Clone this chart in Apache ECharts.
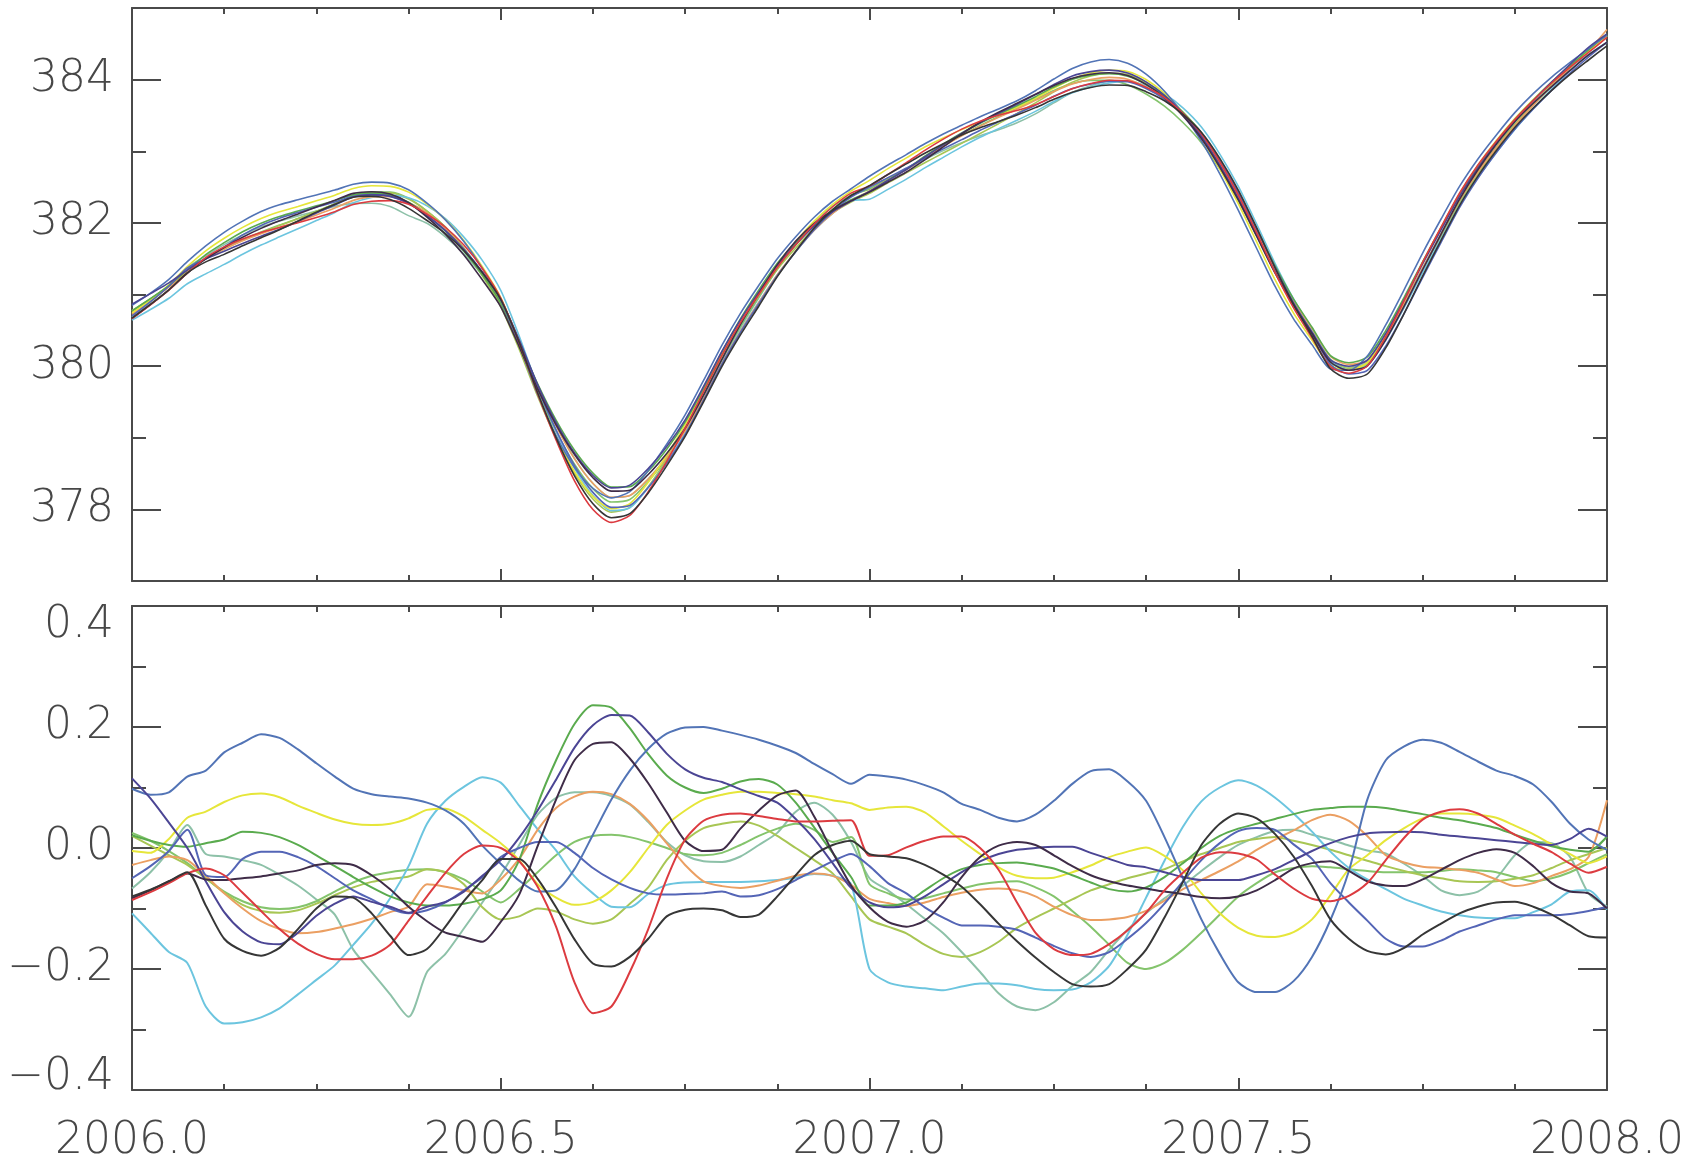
<!DOCTYPE html>
<html>
<head>
<meta charset="utf-8">
<script src="https://cdn.jsdelivr.net/npm/echarts@6/dist/echarts.min.js"></script>
<style>
  html, body { margin: 0; padding: 0; background: #ffffff; }
  #chart { width: 1700px; height: 1164px; }
</style>
</head>
<body>
<div id="chart"></div>
<script>
// Sampling times (decimal year)
const years = [
  2006.000, 2006.025, 2006.050, 2006.075, 2006.100, 2006.125, 2006.150, 2006.175, 2006.200, 2006.225,
  2006.250, 2006.275, 2006.300, 2006.325, 2006.350, 2006.375, 2006.400, 2006.425, 2006.450, 2006.475,
  2006.500, 2006.525, 2006.550, 2006.575, 2006.600, 2006.625, 2006.650, 2006.675, 2006.700, 2006.725,
  2006.750, 2006.775, 2006.800, 2006.825, 2006.850, 2006.875, 2006.900, 2006.925, 2006.950, 2006.975,
  2007.000, 2007.025, 2007.050, 2007.075, 2007.100, 2007.125, 2007.150, 2007.175, 2007.200, 2007.225,
  2007.250, 2007.275, 2007.300, 2007.325, 2007.350, 2007.375, 2007.400, 2007.425, 2007.450, 2007.475,
  2007.500, 2007.525, 2007.550, 2007.575, 2007.600, 2007.625, 2007.650, 2007.675, 2007.700, 2007.725,
  2007.750, 2007.775, 2007.800, 2007.825, 2007.850, 2007.875, 2007.900, 2007.925, 2007.950, 2007.975,
  2008.000
];

// Ensemble mean concentration (ppm)
const meanCO2 = [
  380.75, 380.93, 381.12, 381.34, 381.55, 381.71, 381.85, 381.97, 382.07, 382.16,
  382.25, 382.34, 382.44, 382.48, 382.47, 382.38, 382.20, 381.98, 381.70, 381.36,
  380.95, 380.35, 379.68, 379.10, 378.62, 378.27, 378.08, 378.12, 378.38, 378.72,
  379.12, 379.60, 380.10, 380.55, 380.95, 381.33, 381.65, 381.94, 382.18, 382.37,
  382.53, 382.69, 382.84, 383.00, 383.15, 383.29, 383.42, 383.54, 383.66, 383.79,
  383.93, 384.05, 384.12, 384.15, 384.12, 384.00, 383.82, 383.57, 383.26, 382.86,
  382.40, 381.88, 381.35, 380.88, 380.48, 380.08, 379.98, 380.06, 380.43, 380.90,
  381.40, 381.88, 382.35, 382.75, 383.10, 383.42, 383.70, 383.96, 384.20, 384.42,
  384.62
];

// Offsets of each member from the mean (ppm)
const devSteel = [
  0.098, 0.088, 0.092, 0.118, 0.128, 0.158, 0.174, 0.188, 0.182, 0.163,
  0.140, 0.118, 0.098, 0.089, 0.085, 0.082, 0.075, 0.062, 0.040, 0.004,
  -0.026, -0.054, -0.072, -0.070, -0.035, 0.022, 0.080, 0.128, 0.164, 0.189,
  0.199, 0.200, 0.194, 0.187, 0.179, 0.169, 0.157, 0.139, 0.122, 0.106,
  0.121, 0.118, 0.113, 0.104, 0.092, 0.073, 0.063, 0.050, 0.044, 0.055,
  0.078, 0.106, 0.127, 0.130, 0.110, 0.078, 0.018, -0.050, -0.118, -0.175,
  -0.222, -0.238, -0.238, -0.220, -0.180, -0.119, -0.038, 0.080, 0.145, 0.168,
  0.179, 0.174, 0.159, 0.143, 0.128, 0.119, 0.105, 0.076, 0.040, 0.014,
  -0.003
];
const devIndigo = [
  0.115, 0.082, 0.042, 0.000, -0.055, -0.106, -0.138, -0.156, -0.159, -0.140,
  -0.112, -0.092, -0.080, -0.089, -0.097, -0.107, -0.097, -0.089, -0.072, -0.046,
  -0.020, 0.017, 0.062, 0.113, 0.166, 0.203, 0.220, 0.219, 0.191, 0.156,
  0.130, 0.116, 0.109, 0.097, 0.086, 0.075, 0.048, 0.015, -0.025, -0.066,
  -0.090, -0.098, -0.095, -0.080, -0.060, -0.040, -0.022, -0.010, -0.003, 0.000,
  0.002, 0.002, -0.008, -0.018, -0.028, -0.032, -0.040, -0.048, -0.053, -0.053,
  -0.053, -0.045, -0.035, -0.020, -0.005, 0.008, 0.018, 0.024, 0.026, 0.027,
  0.026, 0.022, 0.019, 0.016, 0.013, 0.010, 0.007, 0.005, 0.015, 0.032,
  0.019
];
const devBlue = [
  -0.050, -0.030, -0.005, 0.030, -0.045, -0.048, -0.018, -0.006, -0.006, -0.015,
  -0.030, -0.050, -0.070, -0.085, -0.100, -0.108, -0.103, -0.090, -0.070, -0.048,
  -0.015, 0.000, 0.010, 0.010, -0.008, -0.033, -0.052, -0.066, -0.075, -0.077,
  -0.076, -0.075, -0.072, -0.080, -0.078, -0.068, -0.053, -0.037, -0.022, -0.010,
  -0.030, -0.058, -0.075, -0.098, -0.115, -0.128, -0.128, -0.130, -0.135, -0.148,
  -0.162, -0.174, -0.180, -0.172, -0.150, -0.124, -0.092, -0.055, -0.020, 0.008,
  0.028, 0.033, 0.030, 0.006, -0.018, -0.058, -0.090, -0.120, -0.150, -0.163,
  -0.163, -0.153, -0.138, -0.128, -0.118, -0.111, -0.111, -0.111, -0.109, -0.104,
  -0.097
];
const devPlum = [
  -0.083, -0.070, -0.055, -0.042, -0.052, -0.053, -0.050, -0.047, -0.042, -0.037,
  -0.028, -0.025, -0.028, -0.045, -0.068, -0.097, -0.121, -0.140, -0.147, -0.155,
  -0.122, -0.077, 0.003, 0.080, 0.145, 0.172, 0.175, 0.148, 0.107, 0.059,
  0.012, -0.005, -0.003, 0.032, 0.062, 0.087, 0.095, 0.052, -0.007, -0.062,
  -0.098, -0.122, -0.130, -0.120, -0.090, -0.048, -0.015, 0.004, 0.010, 0.005,
  -0.012, -0.030, -0.045, -0.055, -0.062, -0.067, -0.072, -0.076, -0.081, -0.083,
  -0.080, -0.070, -0.053, -0.034, -0.025, -0.022, -0.038, -0.055, -0.062, -0.063,
  -0.052, -0.036, -0.020, -0.008, -0.002, -0.008, -0.030, -0.058, -0.072, -0.075,
  -0.100
];
const devYellow = [
  -0.005, -0.008, 0.015, 0.050, 0.060, 0.076, 0.087, 0.090, 0.084, 0.070,
  0.058, 0.047, 0.040, 0.038, 0.040, 0.049, 0.063, 0.065, 0.052, 0.030,
  0.008, -0.020, -0.060, -0.082, -0.094, -0.089, -0.070, -0.040, 0.000, 0.038,
  0.062, 0.080, 0.088, 0.093, 0.093, 0.091, 0.089, 0.085, 0.079, 0.074,
  0.063, 0.067, 0.068, 0.059, 0.036, 0.012, -0.010, -0.032, -0.046, -0.050,
  -0.049, -0.040, -0.029, -0.015, -0.006, 0.001, -0.013, -0.037, -0.075, -0.108,
  -0.132, -0.145, -0.147, -0.139, -0.118, -0.078, -0.035, -0.012, 0.013, 0.033,
  0.049, 0.057, 0.057, 0.055, 0.050, 0.037, 0.023, 0.006, -0.010, -0.025,
  -0.014
];
const devCyan = [
  -0.108, -0.140, -0.172, -0.190, -0.262, -0.290, -0.288, -0.280, -0.265, -0.242,
  -0.218, -0.194, -0.160, -0.125, -0.083, -0.030, 0.040, 0.078, 0.101, 0.117,
  0.108, 0.070, 0.031, -0.004, -0.047, -0.075, -0.097, -0.098, -0.076, -0.061,
  -0.057, -0.056, -0.056, -0.056, -0.055, -0.053, -0.049, -0.043, -0.046, -0.060,
  -0.200, -0.222, -0.229, -0.232, -0.235, -0.229, -0.224, -0.224, -0.227, -0.233,
  -0.235, -0.234, -0.222, -0.195, -0.143, -0.082, -0.021, 0.035, 0.077, 0.100,
  0.112, 0.103, 0.083, 0.057, 0.027, -0.006, -0.033, -0.052, -0.068, -0.084,
  -0.095, -0.105, -0.111, -0.115, -0.116, -0.116, -0.106, -0.093, -0.072, -0.070,
  -0.102
];
const devTeal = [
  -0.067, -0.040, -0.005, 0.038, -0.010, -0.014, -0.020, -0.028, -0.044, -0.062,
  -0.085, -0.110, -0.168, -0.205, -0.242, -0.279, -0.205, -0.175, -0.133, -0.090,
  -0.045, 0.005, 0.055, 0.083, 0.092, 0.092, 0.086, 0.072, 0.043, 0.010,
  -0.012, -0.022, -0.023, -0.014, 0.005, 0.025, 0.060, 0.075, 0.055, 0.010,
  -0.050, -0.070, -0.093, -0.117, -0.141, -0.172, -0.205, -0.240, -0.262, -0.268,
  -0.255, -0.228, -0.205, -0.168, -0.135, -0.108, -0.083, -0.062, -0.038, -0.015,
  0.005, 0.018, 0.028, 0.030, 0.022, 0.014, 0.004, -0.004, -0.009, -0.026,
  -0.046, -0.070, -0.078, -0.072, -0.050, -0.012, 0.010, 0.008, -0.015, -0.075,
  -0.097
];
const devOrange = [
  -0.028, -0.020, -0.014, -0.020, -0.046, -0.075, -0.100, -0.121, -0.134, -0.141,
  -0.139, -0.133, -0.126, -0.117, -0.106, -0.097, -0.060, -0.064, -0.070, -0.075,
  -0.052, -0.018, 0.030, 0.066, 0.085, 0.093, 0.089, 0.073, 0.045, 0.008,
  -0.028, -0.055, -0.063, -0.066, -0.062, -0.054, -0.046, -0.042, -0.046, -0.061,
  -0.084, -0.091, -0.096, -0.090, -0.081, -0.074, -0.069, -0.067, -0.070, -0.080,
  -0.097, -0.111, -0.119, -0.118, -0.114, -0.104, -0.087, -0.068, -0.053, -0.038,
  -0.022, -0.003, 0.014, 0.029, 0.046, 0.055, 0.045, 0.020, -0.012, -0.024,
  -0.031, -0.033, -0.036, -0.041, -0.052, -0.063, -0.058, -0.046, -0.035, -0.015,
  0.079
];
const devRed = [
  -0.086, -0.073, -0.058, -0.042, -0.034, -0.045, -0.074, -0.104, -0.134, -0.158,
  -0.175, -0.184, -0.184, -0.178, -0.160, -0.120, -0.080, -0.041, -0.010, 0.004,
  0.000, -0.022, -0.064, -0.130, -0.222, -0.273, -0.262, -0.205, -0.134, -0.051,
  0.014, 0.045, 0.055, 0.057, 0.053, 0.048, 0.044, 0.044, 0.045, 0.046,
  -0.013, -0.012, 0.001, 0.012, 0.019, 0.019, 0.000, -0.036, -0.090, -0.140,
  -0.167, -0.177, -0.175, -0.159, -0.136, -0.107, -0.070, -0.041, -0.016, -0.007,
  -0.009, -0.019, -0.044, -0.067, -0.084, -0.088, -0.079, -0.058, -0.020, 0.017,
  0.047, 0.060, 0.064, 0.057, 0.040, 0.022, 0.007, -0.007, -0.026, -0.041,
  -0.031
];
const devBlack = [
  -0.080, -0.069, -0.055, -0.040, -0.095, -0.150, -0.170, -0.178, -0.165, -0.134,
  -0.100, -0.080, -0.082, -0.108, -0.145, -0.177, -0.167, -0.130, -0.088, -0.053,
  -0.018, -0.018, -0.051, -0.098, -0.151, -0.191, -0.196, -0.180, -0.150, -0.113,
  -0.102, -0.100, -0.103, -0.114, -0.110, -0.080, -0.045, -0.012, 0.005, 0.012,
  -0.010, -0.014, -0.017, -0.028, -0.044, -0.064, -0.093, -0.125, -0.154, -0.181,
  -0.205, -0.225, -0.229, -0.225, -0.200, -0.168, -0.115, -0.056, 0.005, 0.040,
  0.057, 0.049, 0.023, -0.014, -0.063, -0.118, -0.150, -0.170, -0.176, -0.165,
  -0.143, -0.125, -0.108, -0.097, -0.090, -0.089, -0.097, -0.110, -0.128, -0.146,
  -0.148
];
const devGreen = [
  0.021, 0.012, 0.005, 0.002, 0.008, 0.014, 0.027, 0.025, 0.018, 0.005,
  -0.012, -0.030, -0.048, -0.065, -0.080, -0.090, -0.095, -0.095, -0.092, -0.085,
  -0.070, -0.020, 0.072, 0.145, 0.205, 0.236, 0.232, 0.198, 0.155, 0.120,
  0.100, 0.091, 0.098, 0.110, 0.114, 0.105, 0.075, 0.034, -0.008, -0.048,
  -0.095, -0.095, -0.090, -0.070, -0.050, -0.035, -0.028, -0.025, -0.024, -0.028,
  -0.034, -0.045, -0.057, -0.068, -0.072, -0.065, -0.048, -0.025, 0.000, 0.020,
  0.032, 0.040, 0.048, 0.056, 0.063, 0.066, 0.068, 0.068, 0.066, 0.061,
  0.056, 0.050, 0.046, 0.040, 0.033, 0.022, 0.012, 0.003, -0.003, -0.006,
  0.019
];
const devOlive = [
  0.020, 0.004, -0.012, -0.028, -0.050, -0.074, -0.094, -0.104, -0.107, -0.103,
  -0.092, -0.078, -0.065, -0.056, -0.051, -0.047, -0.035, -0.040, -0.060, -0.098,
  -0.118, -0.113, -0.100, -0.105, -0.118, -0.125, -0.118, -0.092, -0.065, -0.020,
  0.012, 0.033, 0.040, 0.044, 0.037, 0.020, 0.000, -0.020, -0.042, -0.080,
  -0.118, -0.130, -0.141, -0.160, -0.175, -0.180, -0.172, -0.155, -0.132, -0.115,
  -0.100, -0.085, -0.070, -0.060, -0.050, -0.042, -0.035, -0.022, -0.010, 0.000,
  0.010, 0.015, 0.018, 0.012, 0.005, -0.003, -0.012, -0.021, -0.030, -0.038,
  -0.045, -0.050, -0.055, -0.056, -0.055, -0.051, -0.045, -0.033, -0.020, -0.010,
  0.000
];
const devLightGreen = [
  0.025, 0.012, -0.005, -0.025, -0.050, -0.072, -0.088, -0.098, -0.101, -0.098,
  -0.088, -0.072, -0.057, -0.046, -0.040, -0.036, -0.035, -0.040, -0.052, -0.072,
  -0.090, -0.068, -0.040, -0.012, 0.010, 0.020, 0.022, 0.018, 0.010, 0.000,
  -0.010, -0.012, -0.008, 0.005, 0.020, 0.032, 0.040, 0.030, 0.010, 0.018,
  -0.060, -0.075, -0.085, -0.083, -0.075, -0.067, -0.060, -0.056, -0.055, -0.065,
  -0.080, -0.104, -0.130, -0.160, -0.190, -0.200, -0.190, -0.168, -0.140, -0.110,
  -0.080, -0.058, -0.040, -0.033, -0.030, -0.032, -0.035, -0.038, -0.040, -0.040,
  -0.040, -0.038, -0.035, -0.037, -0.040, -0.048, -0.055, -0.050, -0.040, -0.025,
  -0.010
];

// Axis ticks and labels
const xMajorTicks = [2006.0, 2006.5, 2007.0, 2007.5, 2008.0];
const xMinorTicks = [2006.125, 2006.25, 2006.375, 2006.625, 2006.75, 2006.875,
                     2007.125, 2007.25, 2007.375, 2007.625, 2007.75, 2007.875];
const co2MajorTicks = [378, 380, 382, 384];
const co2MinorTicks = [379, 381, 383];
const devMajorTicks = [-0.4, -0.2, 0.0, 0.2, 0.4];
const devMinorTicks = [-0.3, -0.1, 0.1, 0.3];

const members = [
  { name: 'teal',       color: '#8dc1a8', dev: devTeal },
  { name: 'lightgreen', color: '#84c46c', dev: devLightGreen },
  { name: 'olive',      color: '#a8c654', dev: devOlive },
  { name: 'cyan',       color: '#6cc5df', dev: devCyan },
  { name: 'orange',     color: '#eb9f62', dev: devOrange },
  { name: 'yellow',     color: '#e6e63a', dev: devYellow },
  { name: 'green',      color: '#5aab4e', dev: devGreen },
  { name: 'blue',       color: '#5465b6', dev: devBlue },
  { name: 'steel',      color: '#5274b6', dev: devSteel },
  { name: 'indigo',     color: '#4b4594', dev: devIndigo },
  { name: 'plum',       color: '#3f2c48', dev: devPlum },
  { name: 'red',        color: '#dc3b40', dev: devRed },
  { name: 'black',      color: '#363636', dev: devBlack }
];

const FRAME = '#4a4a4a';
const LABEL = { color: '#474747', fontFamily: 'DejaVu Sans', fontWeight: 200, fontSize: 44 };
const X_MIN = 2006, X_MAX = 2008;

function xAxis(grid, position, major, labels) {
  return {
    type: 'value', gridIndex: grid, position: position, min: X_MIN, max: X_MAX,
    axisLine: { show: major, onZero: false, lineStyle: { color: FRAME, width: 2 } },
    axisTick: { show: true, inside: true, customValues: major ? xMajorTicks : xMinorTicks,
                length: major ? 12 : 6, lineStyle: { color: FRAME, width: 2 } },
    axisLabel: Object.assign({ show: labels, customValues: xMajorTicks, margin: 30,
                formatter: v => v.toFixed(1) }, LABEL),
    splitLine: { show: false }, minorTick: { show: false }
  };
}

function yAxis(grid, position, major, range, majorTicks, minorTicks, labels, fmt) {
  return {
    type: 'value', gridIndex: grid, position: position, min: range[0], max: range[1],
    axisLine: { show: major, onZero: false, lineStyle: { color: FRAME, width: 2 } },
    axisTick: { show: true, inside: true, customValues: major ? majorTicks : minorTicks,
                length: major ? 29 : 14, lineStyle: { color: FRAME, width: 2 } },
    axisLabel: Object.assign({ show: labels, customValues: majorTicks, margin: 18,
                formatter: fmt, rich: {
                  lo: Object.assign({ padding: [40, 0, 0, 0] }, LABEL),
                  hi: Object.assign({ padding: [0, 0, 24, 0] }, LABEL)
                } }, LABEL),
    splitLine: { show: false }, minorTick: { show: false }
  };
}

const fmtCO2 = v => String(v);
const fmtDev = v => {
  const s = (v < 0 ? '\u2212' : '') + Math.abs(v).toFixed(1);
  if (v >= 0.399) return '{lo|' + s + '}';
  if (v <= -0.399) return '{hi|' + s + '}';
  return s;
};

const series = [];
members.forEach(m => {
  // concentration = ensemble mean + member offset
  series.push({
    name: m.name, type: 'line', xAxisIndex: 0, yAxisIndex: 0,
    data: years.map((t, i) => [t, +(meanCO2[i] + m.dev[i]).toFixed(3)]),
    showSymbol: false, smooth: 0.25,
    lineStyle: { color: m.color, width: 1.6 }, itemStyle: { color: m.color }
  });
  series.push({
    name: m.name, type: 'line', xAxisIndex: 4, yAxisIndex: 4,
    data: years.map((t, i) => [t, m.dev[i]]),
    showSymbol: false, smooth: 0.25,
    lineStyle: { color: m.color, width: 2 }, itemStyle: { color: m.color }
  });
});

const chart = echarts.init(document.getElementById('chart'), null, { renderer: 'canvas' });
chart.setOption({
  animation: false,
  backgroundColor: '#ffffff',
  grid: [
    { left: 132, right: 93, top: 8, height: 573, containLabel: false, outerBoundsMode: 'none' },
    { left: 132, right: 93, top: 606, height: 484, containLabel: false, outerBoundsMode: 'none' }
  ],
  xAxis: [
    xAxis(0, 'bottom', true, false), xAxis(0, 'bottom', false, false),
    xAxis(0, 'top', true, false),    xAxis(0, 'top', false, false),
    xAxis(1, 'bottom', true, true),  xAxis(1, 'bottom', false, false),
    xAxis(1, 'top', true, false),    xAxis(1, 'top', false, false)
  ],
  yAxis: [
    yAxis(0, 'left', true, [377, 385], co2MajorTicks, co2MinorTicks, true, fmtCO2),
    yAxis(0, 'left', false, [377, 385], co2MajorTicks, co2MinorTicks, false, fmtCO2),
    yAxis(0, 'right', true, [377, 385], co2MajorTicks, co2MinorTicks, false, fmtCO2),
    yAxis(0, 'right', false, [377, 385], co2MajorTicks, co2MinorTicks, false, fmtCO2),
    yAxis(1, 'left', true, [-0.4, 0.4], devMajorTicks, devMinorTicks, true, fmtDev),
    yAxis(1, 'left', false, [-0.4, 0.4], devMajorTicks, devMinorTicks, false, fmtDev),
    yAxis(1, 'right', true, [-0.4, 0.4], devMajorTicks, devMinorTicks, false, fmtDev),
    yAxis(1, 'right', false, [-0.4, 0.4], devMajorTicks, devMinorTicks, false, fmtDev)
  ],
  series: series
});
</script>
</body>
</html>
